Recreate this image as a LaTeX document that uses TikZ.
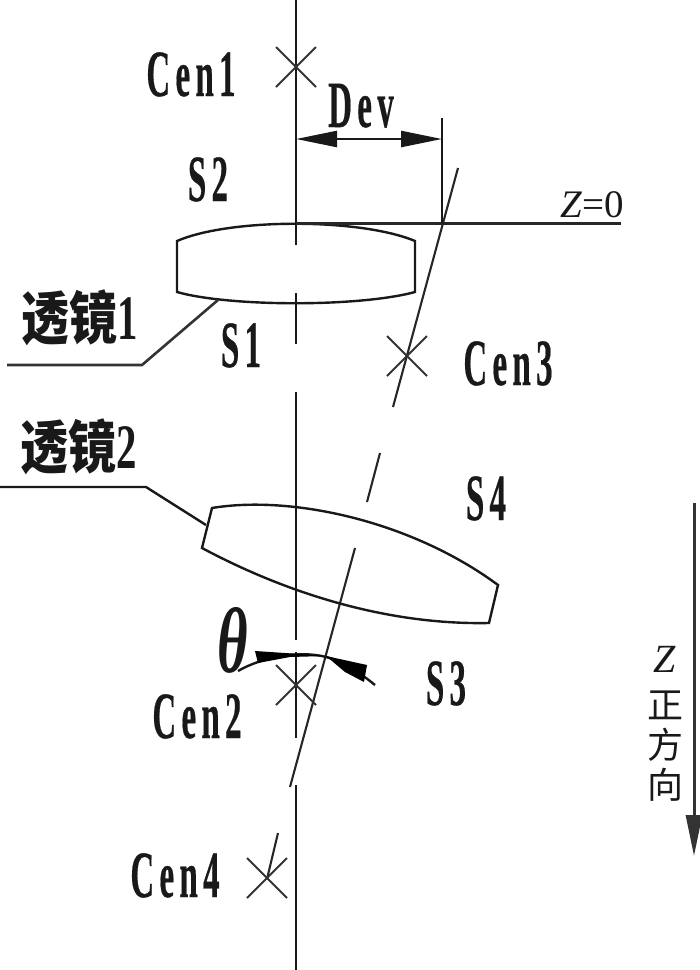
\documentclass[tikz,border=0pt]{standalone}
\usepackage{fontspec}
\usetikzlibrary{arrows.meta}
\setmainfont{Liberation Serif}
\newfontfamily\cjkf{Noto Sans CJK SC}
\newfontfamily\slabf{Liberation Serif Bold}[LetterSpace=16,FakeBold=0.6]
\newcommand{\tall}[1]{\scalebox{1}[2.0]{\fontsize{33}{33}\selectfont\slabf #1}}
\tikzset{
  ln/.style={line width=2.4pt,black!90},
  thinln/.style={line width=2.1pt,black!85},
  crossln/.style={line width=1.9pt,black!80},
  tag/.style={inner sep=0pt,anchor=base,text=black!90},
  cjktag/.style={inner sep=0pt,anchor=center,text=black!90}
}
\begin{document}
\begin{tikzpicture}[x=1pt,y=-1pt]
\useasboundingbox (0,0) rectangle (700,970);
% optical axis
\draw[ln] (296,0) -- (296,245);
\draw[ln] (296,293) -- (296,344);
\draw[ln] (296,392) -- (296,640);
\draw[ln] (296,652) -- (296,738);
\draw[ln] (296,785) -- (296,970);
% tilted axis
\draw[thinln] (458,168) -- (393,407);
\draw[thinln] (380,453) -- (367,502);
\draw[thinln] (355,548) -- (290,787);
\draw[thinln] (278,833) -- (267,879);
% lens 1
\draw[ln] (177,241) .. controls (230,218) and (360,218) .. (415,241) -- (415,292)
  .. controls (360,307) and (230,307) .. (177,292) -- cycle;
% lens 2
\draw[ln] (212,508) .. controls (290,495) and (410,520) .. (498,585) -- (489,623)
  .. controls (390,625) and (290,595) .. (202,548) -- cycle;
% z=0 line
\coordinate (zl) at (296,223);
\coordinate (zr) at (621,223);
\draw[line width=3pt,black!85] (zl) -- (zr);
% Dev dimension
\coordinate (da) at (296,139);
\coordinate (db) at (442,139);
\draw[ln] (442,118) -- (442,223);
\draw[ln,{Triangle[length=41pt,width=16pt]}-{Triangle[length=41pt,width=16pt]}] (da) -- (db);
% crosses
\foreach \n/\cx/\cy in {c1/296/67,c2/296/685,c3/407/356,c4/267/878}{
  \coordinate (\n) at (\cx,\cy);
  \draw[crossln] ([xshift=-20pt,yshift=20pt]\n) -- ([xshift=20pt,yshift=-20pt]\n);
  \draw[crossln] ([xshift=-20pt,yshift=-20pt]\n) -- ([xshift=20pt,yshift=20pt]\n);
}
% leaders
\coordinate (l1a) at (7,365); \coordinate (l1b) at (142,365); \coordinate (l1c) at (218,300);
\draw[line width=2.6pt,black!80] (l1a) -- (l1b) -- (l1c);
\coordinate (l2a) at (0,487); \coordinate (l2b) at (146,487); \coordinate (l2c) at (206,525);
\draw[ln] (l2a) -- (l2b) -- (l2c);
% theta arc with wedges
\draw[ln] (238,671) .. controls (262,657) and (300,650) .. (326,657) .. controls (345,662) and (360,673) .. (375,685);
\fill[black] (255,651) -- (300,654) -- (326,656) -- (290,657) -- (258,663) -- cycle;
\fill[black] (326,656) -- (367,665) -- (364,682) -- (345,672) -- cycle;
% Z direction arrow
\coordinate (za) at (694,503);
\coordinate (zb) at (694,856);
\draw[line width=3pt,black!80,-{Triangle[length=41pt,width=16pt]}] (za) -- (zb);
% labels
\node[tag] (cen1) at (191,96) {\tall{Cen1}};
\node[tag] (dev) at (361,127) {\tall{Dev}};
\node[tag] (s2) at (208,201) {\tall{S2}};
\node[tag] (s1) at (241,367) {\tall{S1}};
\node[tag] (cen3) at (508,385) {\tall{Cen3}};
\node[tag] (s4) at (486,520) {\tall{S4}};
\node[tag] (s3) at (446,705) {\tall{S3}};
\node[tag] (cen2) at (197,738) {\tall{Cen2}};
\node[tag] (cen4) at (175,897) {\tall{Cen4}};
\node[tag] (theta) at (233,672) {\scalebox{0.95}[1.5]{\fontsize{62}{62}\selectfont\rmfamily\bfseries\itshape θ}};
\node[cjktag] (t1) at (80,318) {\scalebox{1}[1.2]{\fontsize{48}{48}\selectfont\cjkf\bfseries 透镜\scalebox{0.85}[1.1]{\rmfamily\bfseries 1}}};
\node[cjktag] (t2) at (79,447) {\scalebox{1}[1.2]{\fontsize{48}{48}\selectfont\cjkf\bfseries 透镜\scalebox{0.85}[1.1]{\rmfamily\bfseries 2}}};
\node[tag,anchor=base east] (z0) at (624,217) {\fontsize{39}{39}\selectfont\textit{Z}=0};
\node[tag] (zz) at (665,672) {\fontsize{40}{40}\selectfont\textit{Z}};
\node[cjktag] (zc1) at (665,705) {\fontsize{36}{36}\selectfont\cjkf 正};
\node[cjktag] (zc2) at (665,745) {\fontsize{36}{36}\selectfont\cjkf 方};
\node[cjktag] (zc3) at (665,785) {\fontsize{36}{36}\selectfont\cjkf 向};
\end{tikzpicture}
\end{document}
